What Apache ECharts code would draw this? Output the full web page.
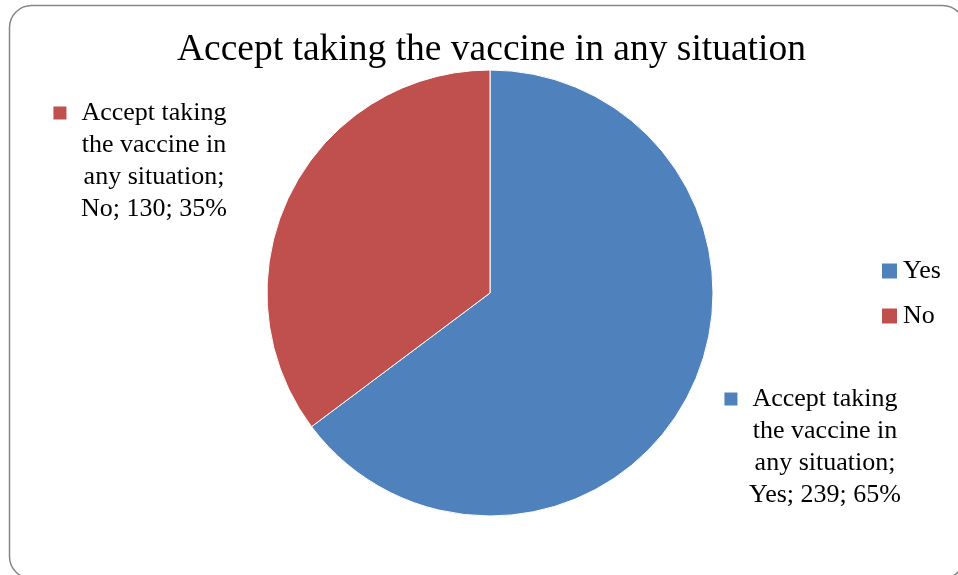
<!DOCTYPE html>
<html><head><meta charset="utf-8">
<script src="https://cdn.jsdelivr.net/npm/echarts@6/dist/echarts.min.js"></script>
<style>html,body{margin:0;padding:0;background:#fff}#c{width:958px;height:575px}</style>
</head><body><div id="c"></div>
<script>
const titleText = 'Accept taking the vaccine in any situation';
const categories = ['Yes', 'No'];
const values = [239, 130];
const percents = ['65%', '35%'];
const colors = ['#4F81BD', '#C0504D'];
const nameLines = ['Accept taking', 'the vaccine in', 'any situation;'];

const FONT = '"Liberation Serif","Times New Roman",serif';
const chart = echarts.init(document.getElementById('c'));
const labelPos = [[825, 447], [154, 161]];

chart.setOption({
  animation: false,
  graphic: [{
    type: 'rect', shape: {x: 9.5, y: 5.5, width: 955, height: 573, r: 22},
    style: {fill: 'none', stroke: '#868686', lineWidth: 1.5}, silent: true
  }],
  title: {
    text: titleText, left: 177, top: 28, padding: 0,
    textStyle: {fontFamily: FONT, fontSize: 37.5, fontWeight: 'normal', color: '#000', lineHeight: 44}
  },
  legend: {
    orient: 'vertical', left: 880, top: 256, padding: 0,
    itemWidth: 17, itemHeight: 17, itemGap: 15, icon: 'rect',
    data: categories,
    textStyle: {fontFamily: FONT, fontSize: 26, color: '#000', lineHeight: 30, padding: [0, 0, 0, 0]}
  },
  series: [{
    type: 'pie', name: titleText,
    center: [490, 293], radius: 223, startAngle: 90, clockwise: true,
    itemStyle: {borderColor: '#fff', borderWidth: 1},
    labelLine: {show: false},
    label: {
      show: true, position: 'outside',
      formatter: p => {
        const m = p.dataIndex === 0 ? 'mY' : 'mN';
        return '{' + m + '|}{s|}{t|' + nameLines[0] + '}{p|}\n{t|' + nameLines[1] + '}\n{t|' + nameLines[2] + '}\n{t|' +
          p.name + '; ' + p.value + '; ' + percents[p.dataIndex] + '}';
      },
      align: 'center',
      rich: {
        mY: {width: 13, height: 13, backgroundColor: colors[0]},
        mN: {width: 13, height: 13, backgroundColor: colors[1]},
        s: {width: 15},
        p: {width: 28},
        t: {fontFamily: FONT, fontSize: 26, color: '#000', lineHeight: 32, align: 'center'}
      }
    },
    labelLayout: params => ({x: labelPos[params.dataIndex][0], y: labelPos[params.dataIndex][1], align: 'center', verticalAlign: 'middle'}),
    data: categories.map((c, i) => ({name: c, value: values[i], itemStyle: {color: colors[i]}}))
  }]
});
</script></body></html>
